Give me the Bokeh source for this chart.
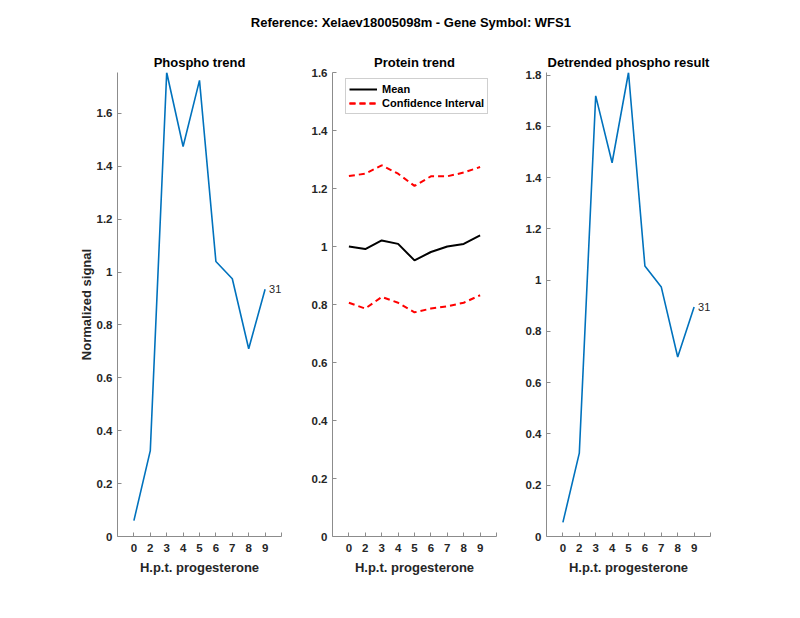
from bokeh.plotting import figure
from bokeh.layouts import row, column
from bokeh.models import (FixedTicker, NumeralTickFormatter, Legend, LegendItem,
                          ColumnDataSource, Range1d)
from bokeh.embed import file_html
from bokeh.resources import INLINE
from bokeh.core.properties import value

# ---- data ----
time_labels = ["0", "2", "3", "4", "5", "6", "7", "8", "9"]
phospho = [0.06, 0.325, 1.755, 1.475, 1.725, 1.04, 0.975, 0.71, 0.935]
protein_mean = [1.000, 0.991, 1.021, 1.009, 0.952, 0.981, 1.000, 1.009, 1.038]
protein_upper = [1.243, 1.251, 1.280, 1.251, 1.209, 1.242, 1.242, 1.255, 1.274]
protein_lower = [0.806, 0.786, 0.826, 0.806, 0.773, 0.786, 0.794, 0.806, 0.832]
detrended = [0.055, 0.325, 1.719, 1.458, 1.810, 1.055, 0.973, 0.700, 0.895]
peptide_id = "31"
main_title = "Reference:  Xelaev18005098m - Gene Symbol:  WFS1"
ticks_left = [0, 0.2, 0.4, 0.6, 0.8, 1.0, 1.2, 1.4, 1.6]
ticks_mid = [0, 0.2, 0.4, 0.6, 0.8, 1.0, 1.2, 1.4, 1.6]
ticks_right = [0, 0.2, 0.4, 0.6, 0.8, 1.0, 1.2, 1.4, 1.6, 1.8]

FONT = "Liberation Sans"
TXT = "#262626"
AX = "#8c8c8c"
BLUE = "#0072BD"

xs = list(range(1, len(time_labels) + 1))
x_ticks = list(range(1, len(time_labels) + 2))
x_over = {i + 1: lab for i, lab in enumerate(time_labels)}
x_over[len(time_labels) + 1] = ""

FRAME_W = 164
FRAME_H = 464
TOP = 36
HEIGHT = 562
TITLE_H = 36


def make_fig(width, mb_left, title, y_end, yticks, ylabel=None):
    p = figure(width=width, height=HEIGHT, output_backend="svg", toolbar_location=None,
               x_range=Range1d(0, len(time_labels) + 1), y_range=Range1d(0, y_end),
               min_border_left=mb_left, min_border_top=TOP,
               min_border_right=width - mb_left - FRAME_W,
               min_border_bottom=HEIGHT - TOP - FRAME_H)
    p.outline_line_color = None
    p.grid.visible = False
    p.background_fill_color = "white"
    p.border_fill_color = "white"
    p.title.text = title
    p.title.align = "center"
    p.title.text_font = FONT
    p.title.text_font_size = "13px"
    p.title.text_font_style = "bold"
    p.title.text_color = "black"
    p.title.standoff = 5
    for ax in (p.xaxis[0], p.yaxis[0]):
        ax.axis_line_color = AX
        ax.major_tick_line_color = AX
        ax.major_tick_in = 4
        ax.major_tick_out = 0
        ax.minor_tick_line_color = None
        ax.major_label_text_font = FONT
        ax.major_label_text_font_size = "11.5px"
        ax.major_label_text_font_style = "bold"
        ax.major_label_text_color = TXT
        ax.axis_label_text_font = FONT
        ax.axis_label_text_font_size = "13px"
        ax.axis_label_text_font_style = "bold"
        ax.axis_label_text_color = TXT
    p.xaxis.ticker = FixedTicker(ticks=x_ticks)
    p.xaxis.major_label_overrides = x_over
    p.xaxis.axis_label = "H.p.t. progesterone"
    p.xaxis.major_label_standoff = 7
    p.xaxis.axis_label_standoff = 5
    p.yaxis.ticker = FixedTicker(ticks=yticks)
    p.yaxis.formatter = NumeralTickFormatter(format="0.[0]")
    p.yaxis.major_label_standoff = 5
    if ylabel:
        p.yaxis.axis_label = ylabel
        p.yaxis.axis_label_standoff = 0
    return p


def add_trend(p, ys):
    src = ColumnDataSource(dict(x=xs, y=ys))
    p.line("x", "y", source=src, line_color=BLUE, line_width=1.6)
    lab = ColumnDataSource(dict(x=[xs[-1]], y=[ys[-1]], t=[peptide_id]))
    p.text("x", "y", text="t", source=lab, x_offset=4, text_baseline="middle",
           text_align="left", text_font=value(FONT), text_font_size="11px",
           text_color=TXT)


# overall title strip (frame aligned with the middle panel so the title centres on it)
pt = figure(width=760, height=TITLE_H, output_backend="svg", toolbar_location=None,
            min_border_left=332, min_border_right=760 - 332 - FRAME_W,
            min_border_top=TITLE_H - 4, min_border_bottom=0,
            x_range=Range1d(0, 1), y_range=Range1d(0, 1))
pt.axis.visible = False
pt.grid.visible = False
pt.outline_line_color = None
pt.border_fill_color = "white"
pt.title.text = main_title
pt.title.align = "center"
pt.title.text_font = FONT
pt.title.text_font_size = "13px"
pt.title.text_font_style = "bold"
pt.title.text_color = "black"
pt.title.standoff = 6

# left
p1 = make_fig(298, 117, "Phospho trend", max(phospho), ticks_left, "Normalized signal")
add_trend(p1, phospho)

# middle
p2 = make_fig(214, 34, "Protein trend", 1.6, ticks_mid)
src_m = ColumnDataSource(dict(x=xs, mean=protein_mean, up=protein_upper, lo=protein_lower))
r_mean = p2.line("x", "mean", source=src_m, line_color="black", line_width=2)
r_up = p2.line("x", "up", source=src_m, line_color="red", line_width=2, line_dash="6 4")
r_lo = p2.line("x", "lo", source=src_m, line_color="red", line_width=2, line_dash="6 4")
legend = Legend(items=[LegendItem(label="Mean", renderers=[r_mean]),
                       LegendItem(label="Confidence Interval", renderers=[r_up, r_lo])],
                location=(13, FRAME_H - 8 - 34))
legend.label_text_font = FONT
legend.label_text_font_size = "11px"
legend.label_text_font_style = "bold"
legend.label_text_color = "black"
legend.label_height = 14
legend.glyph_height = 14
legend.glyph_width = 28
legend.label_standoff = 5
legend.spacing = 0
legend.padding = 3
legend.margin = 0
legend.border_line_color = "#a0a0a0"
legend.border_line_width = 1
legend.background_fill_alpha = 1
p2.add_layout(legend)

# right
p3 = make_fig(248, 34, "Detrended phospho result", max(detrended), ticks_right)
add_trend(p3, detrended)

layout = column(pt, row(p1, p2, p3, spacing=0), spacing=0)
open("out.html", "w").write(file_html(layout, INLINE))
